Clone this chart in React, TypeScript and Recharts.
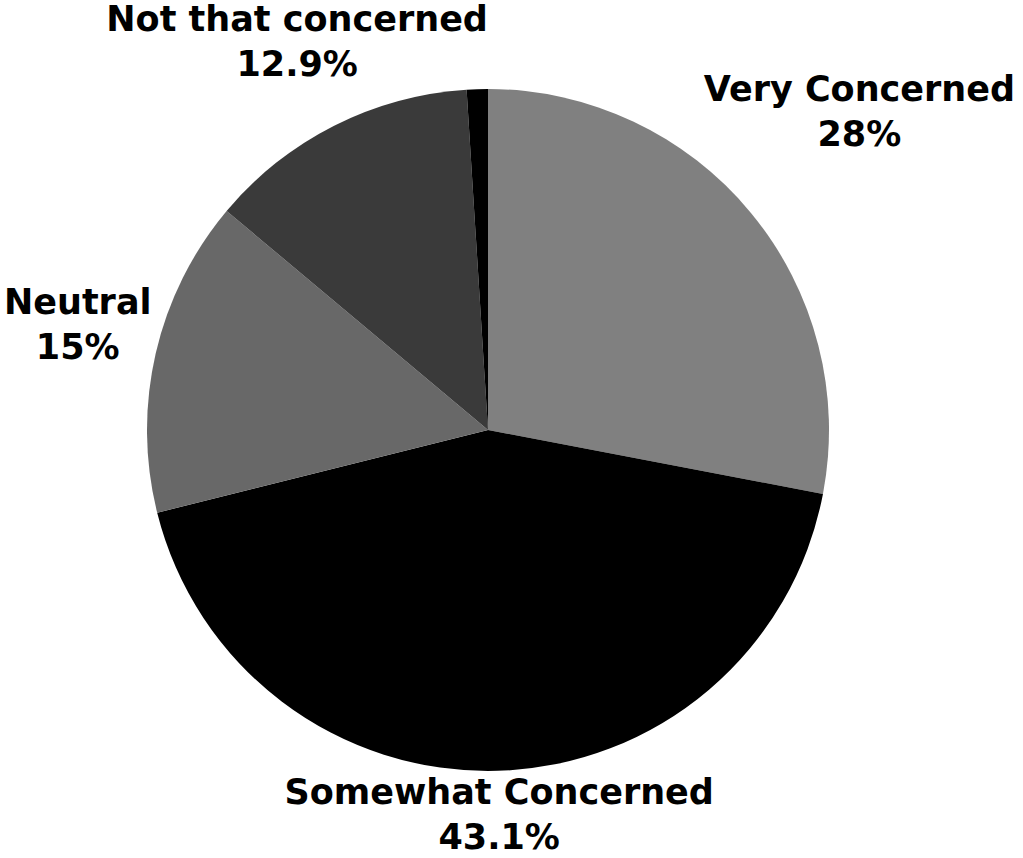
import { PieChart, Pie, Cell } from 'recharts';

const categories = ['Very Concerned', 'Somewhat Concerned', 'Neutral', 'Not that concerned', 'Not at all concerned'];
const shares = [28, 43.1, 15, 12.9, 1];
const sliceColors = ['#808080', '#000000', '#686868', '#3a3a3a', '#000000'];
// the tiny slice carries no label in the original
const showLabel = [true, true, true, true, false];

// extra distance past the rim where each label block sits
const labelGap: Record<string, number> = {
  'Very Concerned': 141,
  'Somewhat Concerned': 55,
  'Neutral': 80,
  'Not that concerned': 82,
};

const data = categories.map((name, i) => ({ name, value: shares[i] }));

const RAD = Math.PI / 180;

const renderLabel = (props: any) => {
  const { cx, cy, midAngle, outerRadius, name, value, index } = props;
  if (!showLabel[index]) return null;
  const r = outerRadius + (labelGap[name] ?? 60);
  const x = cx + r * Math.cos(-midAngle * RAD);
  const y = cy + r * Math.sin(-midAngle * RAD);
  return (
    <text
      x={x}
      y={y}
      textAnchor="middle"
      fill="#000"
      fontSize={35}
      fontWeight={700}
      fontFamily="'DejaVu Sans', sans-serif"
    >
      <tspan x={x} y={y - 22}>{name}</tspan>
      <tspan x={x} y={y + 23}>{`${value}%`}</tspan>
    </text>
  );
};

export default function App() {
  return (
    <div style={{ position: 'absolute', left: 0, top: 0, width: 1023, height: 858, background: '#fff' }}>
      <PieChart width={1023} height={858} margin={{ top: 0, right: 0, bottom: 0, left: 0 }}>
        <Pie
          data={data}
          dataKey="value"
          nameKey="name"
          cx={488}
          cy={430}
          outerRadius={341}
          startAngle={90}
          endAngle={-270}
          stroke="none"
          label={renderLabel}
          labelLine={false}
          isAnimationActive={false}
        >
          {data.map((d, i) => (
            <Cell key={d.name} fill={sliceColors[i]} />
          ))}
        </Pie>
      </PieChart>
    </div>
  );
}
